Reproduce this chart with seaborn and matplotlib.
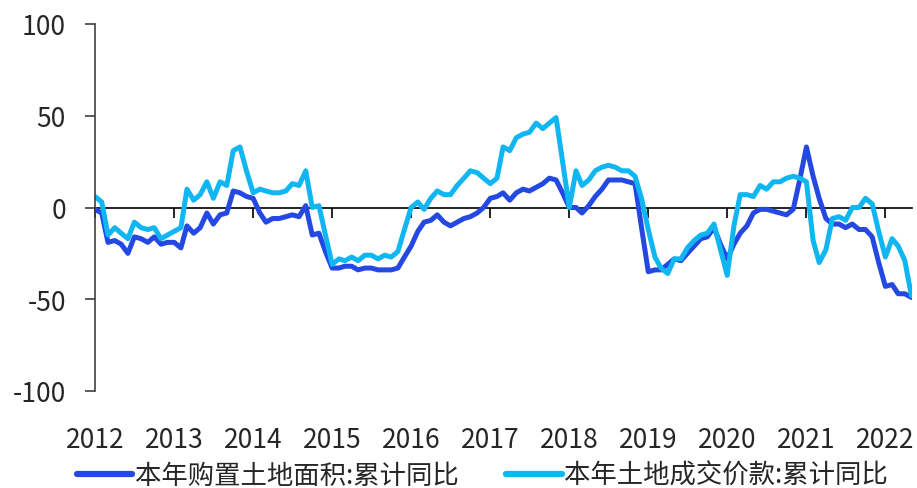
import pandas as pd
import seaborn as sns
import matplotlib.pyplot as plt
import matplotlib.dates as mdates

# monthly, 2012-01 .. 2022-05
months = pd.date_range("2012-01-01", periods=125, freq="MS")

area_yoy = [
    -1, -3, -19, -18, -20, -25, -16, -17, -19, -16, -20, -19,      # 2012
    -19, -22, -10, -14, -11, -3, -9, -4, -3, 9, 8, 6,              # 2013
    5, -3, -8, -6, -6, -5, -4, -5, 1, -15, -14, -24,               # 2014
    -33, -33, -32, -32, -34, -33, -33, -34, -34, -34, -33, -27,    # 2015
    -21, -13, -8, -7, -4, -8, -10, -8, -6, -5, -3, 0,              # 2016
    5, 6, 8, 4, 8, 10, 9, 11, 13, 16, 15, 8,                       # 2017
    0, 0, -3, 1, 6, 10, 15, 15, 15, 14, 13, -11,                   # 2018
    -35, -34, -34, -31, -28, -29, -25, -21, -17, -16, -11, -20,    # 2019
    -28, -20, -14, -10, -3, -1, -1, -2, -3, -4, -1, 15,            # 2020
    33, 17, 5, -6, -9, -9, -11, -9, -12, -12, -16, -30,            # 2021
    -43, -42, -47, -47, -49,                                       # 2022
]

price_yoy = [
    6, 3, -15, -11, -14, -17, -8, -11, -12, -11, -17, -15,         # 2012
    -13, -11, 10, 4, 7, 14, 5, 14, 12, 31, 33, 20,                 # 2013
    8, 10, 9, 8, 8, 9, 13, 12, 20, 0, 1, -15,                      # 2014
    -31, -28, -29, -27, -29, -26, -26, -28, -26, -27, -24, -12,    # 2015
    0, 3, -1, 5, 9, 7, 7, 12, 16, 20, 19, 16,                      # 2016
    13, 16, 33, 31, 38, 40, 41, 46, 43, 46, 49, 25,                # 2017
    0, 20, 12, 15, 20, 22, 23, 22, 20, 20, 17, 5,                  # 2018
    -12, -27, -33, -36, -28, -28, -22, -18, -15, -14, -9, -23,     # 2019
    -37, -10, 7, 7, 6, 12, 10, 14, 14, 16, 17, 16,                 # 2020
    14, -18, -30, -23, -6, -5, -7, 0, 0, 5, 2, -13,                # 2021
    -27, -17, -21, -29, -48,                                       # 2022
]

name_area = "本年购置土地面积:累计同比"
name_price = "本年土地成交价款:累计同比"

df = pd.DataFrame({
    "date": list(months) * 2,
    "value": area_yoy + price_yoy,
    "series": [name_area] * len(area_yoy) + [name_price] * len(price_yoy),
})

sns.set_style("white")
plt.rcParams["font.family"] = ["Noto Sans CJK SC", "DejaVu Sans"]
plt.rcParams["axes.unicode_minus"] = False

fig = plt.figure(figsize=(9.17, 4.89), dpi=100)
ax = fig.add_axes([95 / 917, 1 - 392 / 489, (912 - 95) / 917, (392 - 25) / 489])

sns.lineplot(data=df, x="date", y="value", hue="series",
             hue_order=[name_area, name_price],
             palette=["#2449E3", "#0FB6F2"], linewidth=3.6, ax=ax)

ax.set_ylim(-100, 100)
ax.set_yticks([-100, -50, 0, 50, 100])
ax.set_xlim(months[0], months[-1] + pd.Timedelta(days=3))
ax.xaxis.set_major_locator(mdates.YearLocator())
ax.xaxis.set_major_formatter(mdates.DateFormatter("%Y"))
ax.set_xlabel("")
ax.set_ylabel("")

for s in ["top", "right"]:
    ax.spines[s].set_visible(False)
ax.spines["left"].set_color("#404040")
ax.spines["left"].set_linewidth(1.2)
ax.spines["bottom"].set_position(("data", 0))
ax.spines["bottom"].set_color("black")
ax.spines["bottom"].set_linewidth(1.2)
ax.spines["bottom"].set_zorder(1)

ax.tick_params(axis="y", direction="out", length=7, width=1.2, color="#404040",
               labelsize=19, pad=14, left=True)
ax.tick_params(axis="x", direction="out", length=7, width=1.2, color="black",
               labelsize=19, pad=150, bottom=True)

sns.move_legend(ax, "center", bbox_to_anchor=(0.526, 0.026),
                bbox_transform=fig.transFigure, ncol=2, title=None,
                frameon=False, fontsize=19, handlelength=2.1,
                handletextpad=0.1, columnspacing=1.8)
for line in ax.get_legend().get_lines():
    line.set_linewidth(4.5)

plt.savefig("out.png", dpi=100)
